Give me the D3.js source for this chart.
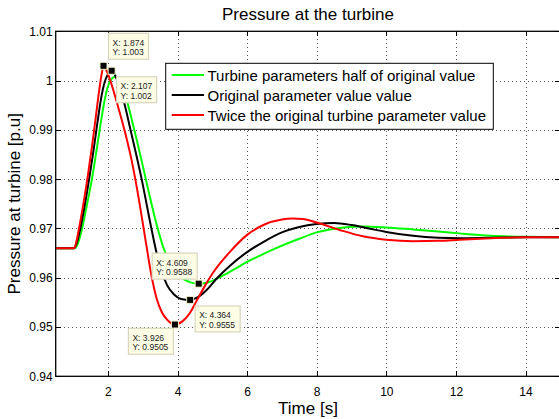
<!DOCTYPE html>
<html>
<head>
<meta charset="utf-8">
<script src="https://cdn.jsdelivr.net/npm/d3@7"></script>
<style>
  html, body { margin: 0; padding: 0; background: #fff; }
  svg { display: block; font-family: "Liberation Sans", Arial, Helvetica, sans-serif; }
</style>
</head>
<body>
<svg id="chart" width="559" height="419"></svg>
<script>
// Turbine pressure response for three sets of turbine parameters
const seriesNames = [
  "Turbine parameters half of original value",
  "Original parameter value value",
  "Twice the original turbine parameter value"
];
const seriesColors = ["#00ff00", "#000000", "#ff0000"];

// Half of the original turbine parameters
const halfT = [0.5, 1.03, 1.13, 1.25, 1.39, 1.54, 1.67, 1.79, 1.9, 2.0, 2.1, 2.2, 2.32, 2.45, 2.6, 2.8, 3.0, 3.2, 3.4, 3.6, 3.8, 4.0, 4.2, 4.4, 4.609, 4.85, 5.1, 5.4, 5.7, 6.0, 6.4, 6.9, 7.5, 8.0, 8.66, 9.33, 10.0, 10.77, 11.5, 12.1, 13.0, 14.0, 15.0];
const halfP = [0.966, 0.966, 0.9668, 0.9697, 0.9745, 0.9800, 0.9857, 0.9912, 0.9958, 0.9988, 1.0003, 1.0008, 1.0003, 0.9982, 0.9945, 0.9888, 0.9828, 0.9766, 0.9708, 0.9660, 0.9628, 0.9608, 0.9596, 0.9590, 0.9588, 0.9590, 0.9597, 0.9608, 0.9620, 0.9632, 0.9646, 0.9662, 0.9679, 0.9692, 0.9701, 0.9704, 0.9702, 0.9698, 0.9694, 0.9690, 0.9685, 0.9683, 0.9682];

// Original turbine parameters
const origT = [0.5, 1.03, 1.1, 1.2, 1.33, 1.46, 1.58, 1.69, 1.8, 1.9, 2.0, 2.107, 2.2, 2.32, 2.45, 2.65, 2.97, 3.25, 3.4, 3.55, 3.7, 3.9, 4.1, 4.364, 4.6, 4.85, 5.12, 5.5, 6.0, 6.5, 7.0, 7.5, 8.0, 8.5, 9.0, 9.5, 10.0, 10.77, 11.5, 12.1, 13.0, 14.0, 15.0];
const origP = [0.966, 0.966, 0.9669, 0.9697, 0.9745, 0.9800, 0.9855, 0.9910, 0.9962, 0.9995, 1.0013, 1.002, 1.0012, 0.999, 0.996, 0.990, 0.980, 0.970, 0.9650, 0.9612, 0.9585, 0.9566, 0.9557, 0.9555, 0.9561, 0.9576, 0.9598, 0.9624, 0.9652, 0.9674, 0.9692, 0.9703, 0.9709, 0.9711, 0.9707, 0.9700, 0.9693, 0.9685, 0.9681, 0.9680, 0.9681, 0.9682, 0.9682];

// Twice the original turbine parameters
const twiceT = [0.5, 1.03, 1.09, 1.17, 1.3, 1.43, 1.55, 1.65, 1.75, 1.82, 1.874, 1.95, 2.03, 2.15, 2.3, 2.5, 2.7, 2.9, 3.1, 3.25, 3.4, 3.55, 3.7, 3.926, 4.15, 4.35, 4.54, 4.8, 5.02, 5.5, 6.0, 6.5, 7.0, 7.3, 7.6, 8.0, 8.66, 9.33, 10.0, 10.77, 11.5, 12.1, 13.0, 14.0, 15.0];
const twiceP = [0.966, 0.966, 0.9672, 0.9700, 0.9752, 0.9810, 0.9870, 0.9925, 0.9980, 1.0013, 1.003, 1.0022, 1.0008, 0.9982, 0.9945, 0.9893, 0.9832, 0.9755, 0.9668, 0.9605, 0.9558, 0.9530, 0.9515, 0.9505, 0.9512, 0.9528, 0.9552, 0.9585, 0.9610, 0.9652, 0.9687, 0.9708, 0.9718, 0.9720, 0.9719, 0.9712, 0.9697, 0.9684, 0.9677, 0.9674, 0.9675, 0.9677, 0.9680, 0.9682, 0.9682];

// Data tips: time, value and which way the label box sits from the marker
const tipT = [1.874, 2.107, 3.926, 4.364, 4.609];
const tipP = [1.003, 1.002, 0.9505, 0.9555, 0.9588];
const tipXText = ["1.874", "2.107", "3.926", "4.364", "4.609"];
const tipYText = ["1.003", "1.002", "0.9505", "0.9555", "0.9588"];
const tipSide = ["ur", "dr", "dl", "dr", "ul"];

const xTicks = [2, 4, 6, 8, 10, 12, 14];
const yTicks = [0.94, 0.95, 0.96, 0.97, 0.98, 0.99, 1.0, 1.01];
const yTickLabels = ["0.94", "0.95", "0.96", "0.97", "0.98", "0.99", "1", "1.01"];

const titleText = "Pressure at the turbine";
const xLabel = "Time [s]";
const yLabel = "Pressure at turbine [p.u]";

const svg = d3.select("#chart");
const plotLeft = 55.7, plotRight = 560.3, plotTop = 31.3, plotBottom = 376.3;

const x = d3.scaleLinear().domain([0.5, 15]).range([plotLeft, plotRight]);
const y = d3.scaleLinear().domain([0.94, 1.01]).range([plotBottom, plotTop]);

// Dotted grid
const grid = svg.append("g").attr("class", "grid");
grid.append("g")
  .attr("transform", `translate(0,${plotBottom})`)
  .call(d3.axisBottom(x).tickValues(xTicks).tickSize(-(plotBottom - plotTop)).tickFormat(""))
  .call(g => g.select(".domain").remove());
grid.append("g")
  .attr("transform", `translate(${plotLeft},0)`)
  .call(d3.axisLeft(y).tickValues(yTicks.slice(1, -1)).tickSize(-(plotRight - plotLeft)).tickFormat(""))
  .call(g => g.select(".domain").remove());
grid.selectAll("line")
  .attr("stroke", "#555")
  .attr("stroke-width", 1)
  .attr("stroke-dasharray", "1,3")
  .attr("shape-rendering", "crispEdges");

// Curves
svg.append("defs").append("clipPath").attr("id", "plotclip")
  .append("rect").attr("x", plotLeft).attr("y", plotTop)
  .attr("width", plotRight - plotLeft).attr("height", plotBottom - plotTop);

const line = d3.line()
  .x(d => x(d[0]))
  .y(d => y(d[1]))
  .curve(d3.curveMonotoneX);

const series = [
  d3.zip(halfT, halfP),
  d3.zip(origT, origP),
  d3.zip(twiceT, twiceP)
];

const curves = svg.append("g").attr("clip-path", "url(#plotclip)");
series.forEach((pts, i) => {
  curves.append("path")
    .datum(pts)
    .attr("fill", "none")
    .attr("stroke", seriesColors[i])
    .attr("stroke-width", 2)
    .attr("stroke-linejoin", "round")
    .attr("d", line);
});

// Axes with inward ticks on all four sides
const axisStyle = g => {
  g.select(".domain").remove();
  g.selectAll(".tick line").attr("stroke", "#000").attr("shape-rendering", "crispEdges");
  g.selectAll(".tick text").attr("fill", "#000").style("font-size", "12px")
    .style("font-family", "'Liberation Sans', Arial, sans-serif");
};

svg.append("g")
  .attr("transform", `translate(0,${plotBottom})`)
  .call(d3.axisBottom(x).tickValues(xTicks).tickFormat(d3.format("d"))
    .tickSizeInner(-5).tickSizeOuter(0).tickPadding(11))
  .call(axisStyle);

svg.append("g")
  .attr("transform", `translate(0,${plotTop})`)
  .call(d3.axisTop(x).tickValues(xTicks).tickFormat("").tickSizeInner(-5).tickSizeOuter(0))
  .call(axisStyle);

svg.append("g")
  .attr("transform", `translate(${plotLeft},0)`)
  .call(d3.axisLeft(y).tickValues(yTicks).tickFormat((d, i) => yTickLabels[i])
    .tickSizeInner(-5).tickSizeOuter(0).tickPadding(3))
  .call(axisStyle);

svg.append("g")
  .attr("transform", `translate(${plotRight},0)`)
  .call(d3.axisRight(y).tickValues(yTicks).tickFormat("").tickSizeInner(-5).tickSizeOuter(0))
  .call(axisStyle);

// Axes box
svg.append("rect")
  .attr("x", plotLeft).attr("y", plotTop)
  .attr("width", plotRight - plotLeft).attr("height", plotBottom - plotTop)
  .attr("fill", "none").attr("stroke", "#000").attr("stroke-width", 1.3);

// Title and axis labels
svg.append("text")
  .attr("x", (plotLeft + plotRight) / 2).attr("y", 20)
  .attr("text-anchor", "middle").style("font-size", "17px")
  .text(titleText);

svg.append("text")
  .attr("x", (plotLeft + plotRight) / 2).attr("y", 414)
  .attr("text-anchor", "middle").style("font-size", "17px")
  .text(xLabel);

svg.append("text")
  .attr("transform", `translate(20,${(plotTop + plotBottom) / 2}) rotate(-90)`)
  .attr("text-anchor", "middle").style("font-size", "17px")
  .text(yLabel);

// Legend
const legend = svg.append("g");
legend.append("rect")
  .attr("x", 165.7).attr("y", 63.3).attr("width", 327.6).attr("height", 66)
  .attr("fill", "#fff").attr("stroke", "#000").attr("stroke-width", 1);
seriesNames.forEach((name, i) => {
  const ly = 75 + i * 20;
  legend.append("line")
    .attr("x1", 171.7).attr("x2", 204).attr("y1", ly).attr("y2", ly)
    .attr("stroke", seriesColors[i]).attr("stroke-width", 2);
  legend.append("text")
    .attr("x", 207.5).attr("y", ly + 5.5)
    .style("font-size", "15px")
    .text(name);
});

// Data tips
const tips = svg.append("g").style("font-size", "8.5px");
tipT.forEach((t, i) => {
  const mx = x(t), my = y(tipP[i]);
  const w = tipYText[i].length > 5 ? 45 : 40;
  const h = 26;
  const side = tipSide[i];
  const bx = side.includes("r") ? mx + 5 : mx - w - 1.5;
  const by = side === "ur" ? my - h - 6.5
           : side === "ul" ? my - h - 4.5
           : side === "dl" ? my + 3.7
           : my + 6;
  const g = tips.append("g");
  g.append("rect")
    .attr("x", bx).attr("y", by).attr("width", w).attr("height", h)
    .attr("fill", "#fdfde6").attr("stroke", "#d8d6bd").attr("stroke-width", 1.2);
  g.append("text").attr("x", bx + 4).attr("y", by + 12.5).attr("fill", "#222")
    .text("X: " + tipXText[i]);
  g.append("text").attr("x", bx + 4).attr("y", by + 22).attr("fill", "#222")
    .text("Y: " + tipYText[i]);
  g.append("rect")
    .attr("x", mx - 3.5).attr("y", my - 3.5).attr("width", 7).attr("height", 7)
    .attr("fill", "#000").attr("stroke", "#f3f0c8").attr("stroke-width", 1);
});
</script>
</body>
</html>
